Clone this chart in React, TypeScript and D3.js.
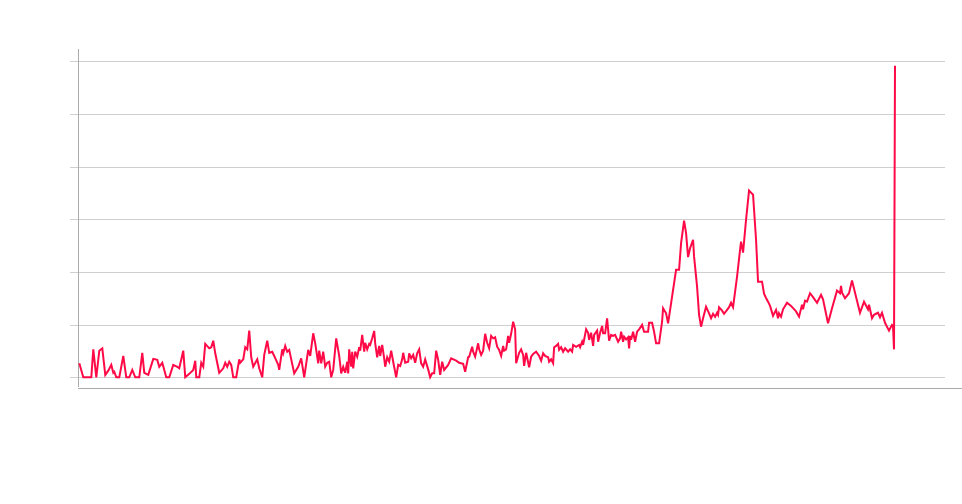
import React from "react";
import * as d3 from "d3";

// [week index, interest value]
const series: [number, number][] = [
  [0,5.3],[4,0],[12,0],[14,10.6],[17,0],[20,10.1],[23,11.0],[26,0.9],[29,2.5],[32,4.7],[34,1.7],[35,2.1],[37,0],[40,0],[44,8.1],[47,0],[50,0],[53,2.8],[56,0],[60,0],[63,9.3],[65,1.7],[69,0.9],[74,7.0],[78,6.6],[80,4.0],[83,5.5],[87,0],[90,0],[94,4.7],[98,4.0],[100,3.4],[104,10.1],[106,0],[110,1.3],[114,2.8],[116,6.3],
  [117,0],[120,0],[122,5.5],[124,4.0],[126,12.7],[130,11.0],[132,11.4],[134,13.9],[136,9.1],[140,1.7],[144,3.4],[146,5.5],[148,4.0],[150,5.9],[152,4.7],[154,0],[157,0],[160,6.8],[161,5.5],[164,6.8],[166,11.4],[168,10.6],[170,17.7],[172,7.6],[174,4.0],[178,6.8],[180,3.4],[183,0],[185,8.5],[188,13.9],[190,9.3],[193,9.7],[195,8.1],[199,4.7],[200,2.8],[203,10.6],[204,9.1],[206,11.9],[208,9.7],[210,10.4],[215,1.5],[219,4.0],[222,7.2],[225,0],[229,10.4],[231,8.1],[234,16.7],[236,12.9],
  [237,10.4],[239,5.3],[240,10.1],[242,5.3],[244,9.7],[246,4.0],[248,5.5],[250,5.9],[252,0],[254,2.8],[257,14.8],[260,8.1],[262,1.5],[264,4.0],[266,1.7],[268,5.9],[269,1.5],[270,10.6],[272,4.0],[273,9.7],[274,3.4],[276,9.7],[278,7.8],[280,11.4],[281,10.1],[283,16.1],[285,9.7],[286,13.1],[288,10.6],[290,12.7],[291,12.3],[293,14.8],[295,17.6],[296,12.9],[298,7.6],[300,11.9],[301,8.1],[303,12.3],[305,7.2],[306,4.0],[308,7.6],[310,5.9],[312,10.1],[314,5.9],[317,0],[319,4.7],[321,4.3],[323,6.8],[324,9.3],[326,5.5],[329,5.9],[330,9.1],[332,7.2],[334,8.5],[336,5.5],[338,9.1],[340,10.6],[342,5.3],[344,4.0],[346,6.8],[349,3.0],[351,0],[353,1.5],[355,1.5],[357,10.1],
  [359,6.6],[361,0.9],[363,5.9],[365,2.8],[369,4.7],[372,7.2],[377,6.3],[380,5.5],[384,5.1],[386,2.1],[389,7.6],[390,7.8],[393,11.6],[394,9.7],[396,7.8],[399,12.9],[400,10.6],[402,8.5],[404,10.1],[406,16.5],[408,13.1],[410,11.0],[412,15.7],[414,14.8],[416,15.2],[418,11.6],[420,10.4],[422,8.1],[424,11.9],[425,10.1],[427,10.6],[429,15.7],[430,13.1],[432,16.5],[434,21.1],[436,18.2],[437,5.3],[440,9.3],[442,10.6],[444,8.5],[445,4.3],[447,9.3],[450,3.8],[452,7.8],[454,8.9],[457,9.7],[460,8.1],[462,6.3],[464,9.1],[466,8.1],[469,7.6],[470,5.9],[472,6.8],[474,5.3],[475,11.4],[477,11.9],
  [479,12.7],[480,10.4],[482,11.4],[484,9.7],[486,11.0],[489,9.7],[491,10.6],[493,9.7],[494,12.3],[497,11.6],[500,12.3],[501,11.4],[503,13.5],[504,12.3],[507,18.2],[509,16.9],[510,14.2],[512,16.9],[514,11.9],[515,16.1],[518,17.7],[519,13.5],[521,16.9],[523,19.5],[524,16.7],[526,16.7],[528,22.4],[530,13.9],[532,16.1],[534,15.7],[536,16.1],[539,13.5],[541,14.8],[542,17.3],[544,13.5],[545,15.4],[547,14.4],[549,15.2],[550,11.0],[551,15.7],[552,14.2],[554,17.3],[556,13.5],[558,17.3],[560,18.2],[563,19.9],[565,17.3],[569,17.3],[570,20.7],[573,20.7],[575,17.3],[577,12.9],[580,12.9],[583,21.1],[584,26.2],[587,24.3],[589,20.5],
  [597,40.8],[600,40.8],[602,50.9],[605,59.5],[607,54.7],[609,45.6],[611,49.0],[614,52.2],[615,45.8],[618,34.4],[620,23.7],[622,19.2],[624,22.4],[627,26.8],[630,24.3],[632,22.4],[634,24.1],[636,23.0],[638,24.5],[639,23.7],[640,26.6],[643,25.3],[645,24.1],[648,25.6],[650,26.6],[652,28.3],[654,26.6],[658,38.2],[661,48.4],[662,51.5],[664,47.3],[667,59.8],[670,70.9],[672,70.1],[674,69.3],[677,52.2],[679,36.3],[683,36.3],[685,31.7],[687,30.1],[689,28.7],[691,27.1],[694,23.3],[697,25.6],[699,22.4],[700,24.3],[702,23.0],[704,25.8],[708,28.3],[712,27.1],
  [717,25.0],[720,23.0],[723,27.5],[724,25.8],[726,29.1],[728,28.7],[731,31.9],[734,30.4],[738,28.3],[742,31.3],[744,29.6],[749,20.5],[753,26.2],[758,32.9],[761,31.9],[762,34.7],[763,32.1],[766,30.0],[770,31.9],[773,36.7],[777,30.6],[781,24.5],[785,28.7],[789,25.8],[790,27.5],[793,22.4],[795,23.7],[799,24.5],[801,22.8],[803,24.5],[806,20.7],[810,17.7],[813,19.9],[814,19.5],[815,10.6],[816,118.3],
];

const yTicks = [0, 20, 40, 60, 80, 100, 120];

const W = 962;
const H = 504;

export default function App() {
  const x = d3.scaleLinear().domain([0, 816]).range([79.3, 895]);
  const y = d3.scaleLinear().domain([-4.18, 124.5]).range([388.3, 49.3]);
  const line = d3
    .line<[number, number]>()
    .x((d) => x(d[0]))
    .y((d) => y(d[1]))
    .curve(d3.curveLinear);

  const axisX = 78.5;
  const gridRight = 945;

  return (
    <div style={{ position: "absolute", left: 0, top: 0 }}>
      <svg width={W} height={H} style={{ display: "block", background: "#fff" }}>
        {yTicks.map((t) => (
          <g key={t}>
            <line
              x1={70}
              x2={gridRight}
              y1={Math.round(y(t)) + 0.5}
              y2={Math.round(y(t)) + 0.5}
              stroke="#cfcfcf"
              strokeWidth={1}
            />
          </g>
        ))}
        <line x1={axisX} x2={axisX} y1={49} y2={387} stroke="#aaaaaa" strokeWidth={1} />
        <line x1={78} x2={W} y1={388.5} y2={388.5} stroke="#aaaaaa" strokeWidth={1} />
        <path
          d={line(series) || ""}
          fill="none"
          stroke="#ff0a47"
          strokeWidth={2}
          strokeLinejoin="miter"
          strokeMiterlimit={4}
        />
      </svg>
    </div>
  );
}
